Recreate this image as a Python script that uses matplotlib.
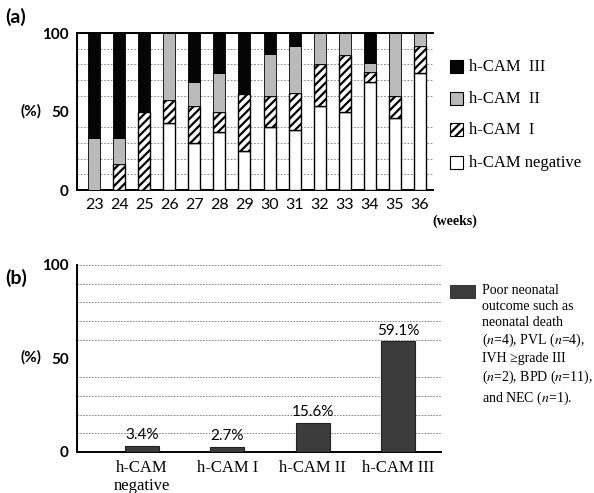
import numpy as np
import matplotlib
matplotlib.use("Agg")
import matplotlib.pyplot as plt

plt.rcParams["hatch.linewidth"] = 1.6

# panel (a): distribution of h-CAM stage by gestational week (%)
weeks = ["23", "24", "25", "26", "27", "28", "29", "30", "31", "32", "33", "34", "35", "36"]
cam_neg = [0, 0, 0, 42.5, 30.2, 37.2, 25.0, 40.0, 38.5, 53.6, 49.6, 69.0, 46.0, 74.5]
cam_1 = [0, 16.7, 50.0, 15.0, 23.4, 12.4, 36.3, 19.6, 23.0, 26.8, 36.4, 6.0, 14.0, 17.0]
cam_2 = [33.3, 16.7, 0, 42.5, 15.1, 24.9, 0, 27.0, 30.5, 19.6, 14.0, 6.0, 40.0, 8.5]
cam_3 = [66.7, 66.6, 50.0, 0, 31.3, 25.5, 38.7, 13.4, 8.0, 0, 0, 19.0, 0, 0]

# panel (b): poor neonatal outcome by h-CAM stage (%)
groups = ["h-CAM\nnegative", "h-CAM I", "h-CAM II", "h-CAM III"]
poor = [3.4, 2.7, 15.6, 59.1]

sans = ["Lato", "DejaVu Sans"]
serif = ["Liberation Serif", "DejaVu Serif"]

fig = plt.figure(figsize=(5.94, 4.93), dpi=100)

# ---------------- (a)
ax = fig.add_axes([0.1296, 0.6146, 0.5994, 0.3184])
x = np.arange(len(weeks))
w = 0.48
b1 = np.array(cam_neg)
b2 = b1 + np.array(cam_1)
b3 = b2 + np.array(cam_2)
ax.bar(x, cam_neg, w, color="white", edgecolor="black", linewidth=1.0, zorder=3)
ax.bar(x, cam_1, w, bottom=b1, color="white", edgecolor="black", hatch="////", linewidth=1.0, zorder=3)
ax.bar(x, cam_2, w, bottom=b2, color="#bababa", edgecolor="black", linewidth=0.6, zorder=3)
ax.bar(x, cam_3, w, bottom=b3, color="#050505", edgecolor="black", linewidth=0.6, zorder=3)
ax.set_xlim(-0.68, 13.52)
ax.set_ylim(0, 100)
ax.set_yticks([0, 50, 100])
ax.set_yticks(range(10, 100, 10), minor=True)
ax.yaxis.grid(True, which="minor", linestyle=(0, (2, 2)), color="#777777", linewidth=0.6, zorder=0)
ax.set_xticks(x)
ax.set_xticklabels(weeks, family=sans, fontsize=11.5)
for lab in ax.get_yticklabels():
    lab.set_family(sans)
    lab.set_fontsize(11)
    lab.set_fontweight("bold")
ax.tick_params(axis="both", which="both", length=0, pad=6)
ax.spines["right"].set_visible(False)
for s in ["left", "top", "bottom"]:
    ax.spines[s].set_linewidth(1.4)

fig.text(0.008, 0.965, "(a)", family=sans, fontsize=14, fontweight="bold", va="center")
fig.text(0.035, 0.775, "(%)", family=sans, fontsize=11, fontweight="bold", va="center")
fig.text(0.728, 0.552, "(weeks)", family=serif, fontsize=10, fontweight="bold", va="center")

# legend (a)
leg_items = [("h-CAM  III", "#050505", None), ("h-CAM  II", "#bababa", None),
             ("h-CAM  I", "white", "////"), ("h-CAM negative", "white", None)]
leg_y = [0.864, 0.800, 0.736, 0.669]
for (lab, col, hat), yy in zip(leg_items, leg_y):
    fig.patches.append(matplotlib.patches.Rectangle(
        (0.758, yy - 0.012), 0.022, 0.026, transform=fig.transFigure,
        facecolor=col, edgecolor="black", hatch=hat, linewidth=0.8))
    fig.text(0.79, yy, lab, family=serif, fontsize=12, va="center")

# ---------------- (b)
bx = fig.add_axes([0.1296, 0.0832, 0.6128, 0.3793])
xb = np.arange(len(groups))
bx.bar(xb, poor, 0.4, color="#3c3c3c", edgecolor="#222222", linewidth=0.8, zorder=3)
for xi, v in zip(xb, poor):
    bx.text(xi, v + 2, f"{v}%", ha="center", va="bottom", family=sans, fontsize=11, zorder=4)
bx.set_xlim(-0.76, 3.5)
bx.set_ylim(0, 100)
bx.set_yticks([0, 50, 100])
bx.set_yticks(range(10, 100, 10), minor=True)
bx.yaxis.grid(True, which="minor", linestyle=(0, (2, 1.5)), color="#777777", linewidth=0.6, zorder=0)
bx.axhline(100, linestyle=(0, (2, 1.5)), color="#777777", linewidth=0.6, clip_on=False, zorder=0)
bx.set_xticks(xb)
bx.set_xticklabels(groups, family=serif, fontsize=12, linespacing=1.1)
for lab in bx.get_yticklabels():
    lab.set_family(sans)
    lab.set_fontsize(11)
    lab.set_fontweight("bold")
bx.tick_params(axis="both", which="both", length=0, pad=6)
bx.spines["right"].set_visible(False)
bx.spines["top"].set_visible(False)
for s in ["left", "bottom"]:
    bx.spines[s].set_linewidth(1.4)

fig.text(0.008, 0.437, "(b)", family=sans, fontsize=14, fontweight="bold", va="center")
fig.text(0.035, 0.275, "(%)", family=sans, fontsize=11, fontweight="bold", va="center")

fig.patches.append(matplotlib.patches.Rectangle(
    (0.758, 0.395), 0.042, 0.027, transform=fig.transFigure,
    facecolor="#3c3c3c", edgecolor="#222222", linewidth=0.6))
fig.text(0.811, 0.424, "Poor neonatal\noutcome such as\nneonatal death\n($n$=4), PVL ($n$=4),\nIVH \u2265grade III\n($n$=2), BPD ($n$=11),\nand NEC ($n$=1).",
         family=serif, fontsize=10, va="top", linespacing=1.28,
         math_fontfamily="stix")

fig.savefig("out.png", dpi=100)
